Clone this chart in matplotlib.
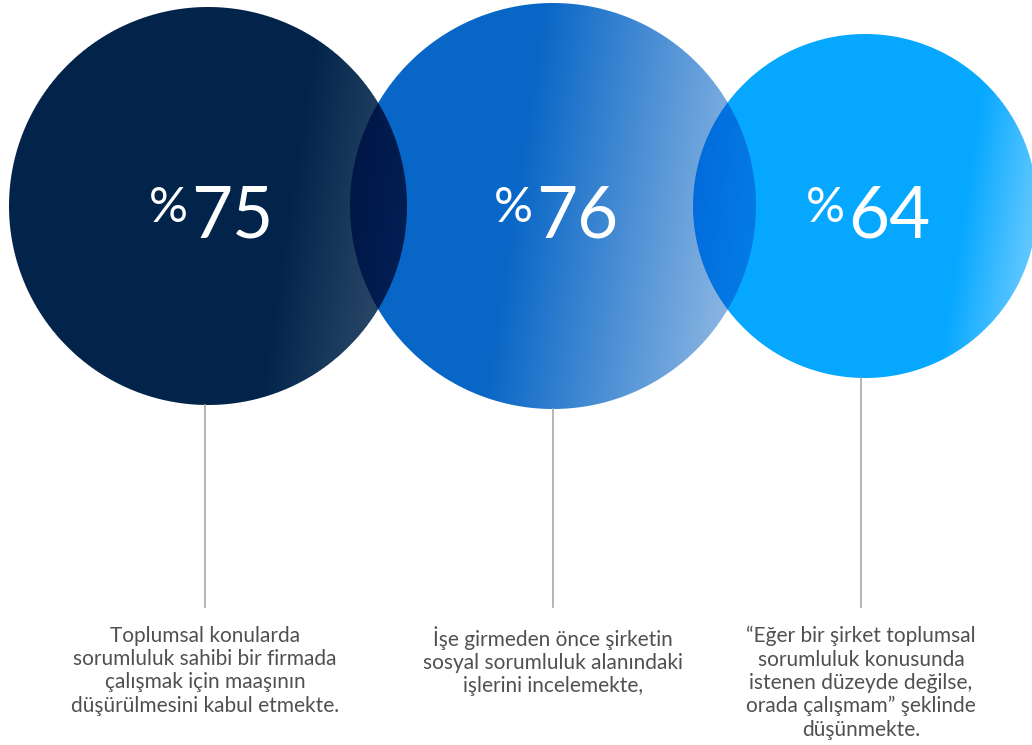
import numpy as np
import matplotlib
matplotlib.use("Agg")
import matplotlib.pyplot as plt
from matplotlib.colors import to_rgb

# values and labels
values = [75, 76, 64]
descriptions = [
    "Toplumsal konularda\nsorumluluk sahibi bir firmada\nçalışmak için maaşının\ndüşürülmesini kabul etmekte.",
    "İşe girmeden önce şirketin\nsosyal sorumluluk alanındaki\nişlerini incelemekte,",
    "“Eğer bir şirket toplumsal\nsorumluluk konusunda\nistenen düzeyde değilse,\norada çalışmam” şeklinde\ndüşünmekte.",
]

# layout (pixels)
W, H = 1032, 745
centers_x = [208, 553, 865]
centers_y = [206, 206, 206]
radii = [199, 203, 172]
base_colors = ["#02244A", "#0866C6", "#06A8FF"]
edge_colors = ["#2E4C6B", "#92BAE4", "#62C8FF"]
grad_start = [0.40, -0.20, 0.58]
line_x = [205, 553, 861]
line_bottom = 607

fig = plt.figure(figsize=(W / 100, H / 100), dpi=100)
ax = fig.add_axes([0, 0, 1, 1])
ax.set_xlim(0, W)
ax.set_ylim(H, 0)
ax.axis("off")

# circles with gradient, multiply-blended where they overlap
xx, yy = np.meshgrid(np.arange(W) + 0.5, np.arange(H) + 0.5)
img = np.ones((H, W, 3))
for cx, cy, r, c0, c1, s0 in zip(centers_x, centers_y, radii, base_colors, edge_colors, grad_start):
    d = np.hypot(xx - cx, yy - cy)
    cover = np.clip(r - d + 0.5, 0, 1)[..., None]
    s = (xx - cx + 0.15 * (yy - cy)) / r
    t = np.clip((s - s0) / (1.0 - s0), 0, 1)[..., None]
    col = (1 - t) * np.array(to_rgb(c0)) + t * np.array(to_rgb(c1))
    img = img * (1 - cover + cover * col)

ax.imshow(img, extent=(0, W, H, 0), interpolation="bilinear", zorder=1)

font = ["Lato", "DejaVu Sans"]
for cx, cy, r, v, lx, desc in zip(centers_x, centers_y, radii, values, line_x, descriptions):
    ax.plot([lx, lx], [cy + r, line_bottom], color="#A8A8A8", lw=1.2, zorder=2)
    ax.text(cx - 17, 237, str(v), color="white", fontsize=51, family=font,
            ha="left", va="baseline", zorder=3)
    ax.text(cx - 20, 222, "%", color="white", fontsize=35, family=font,
            ha="right", va="baseline", zorder=3)
    ax.text(lx, 626, desc, color="#505050", fontsize=15, family=font,
            ha="center", va="top", linespacing=1.2, zorder=3)

fig.savefig("out.png", dpi=100)
